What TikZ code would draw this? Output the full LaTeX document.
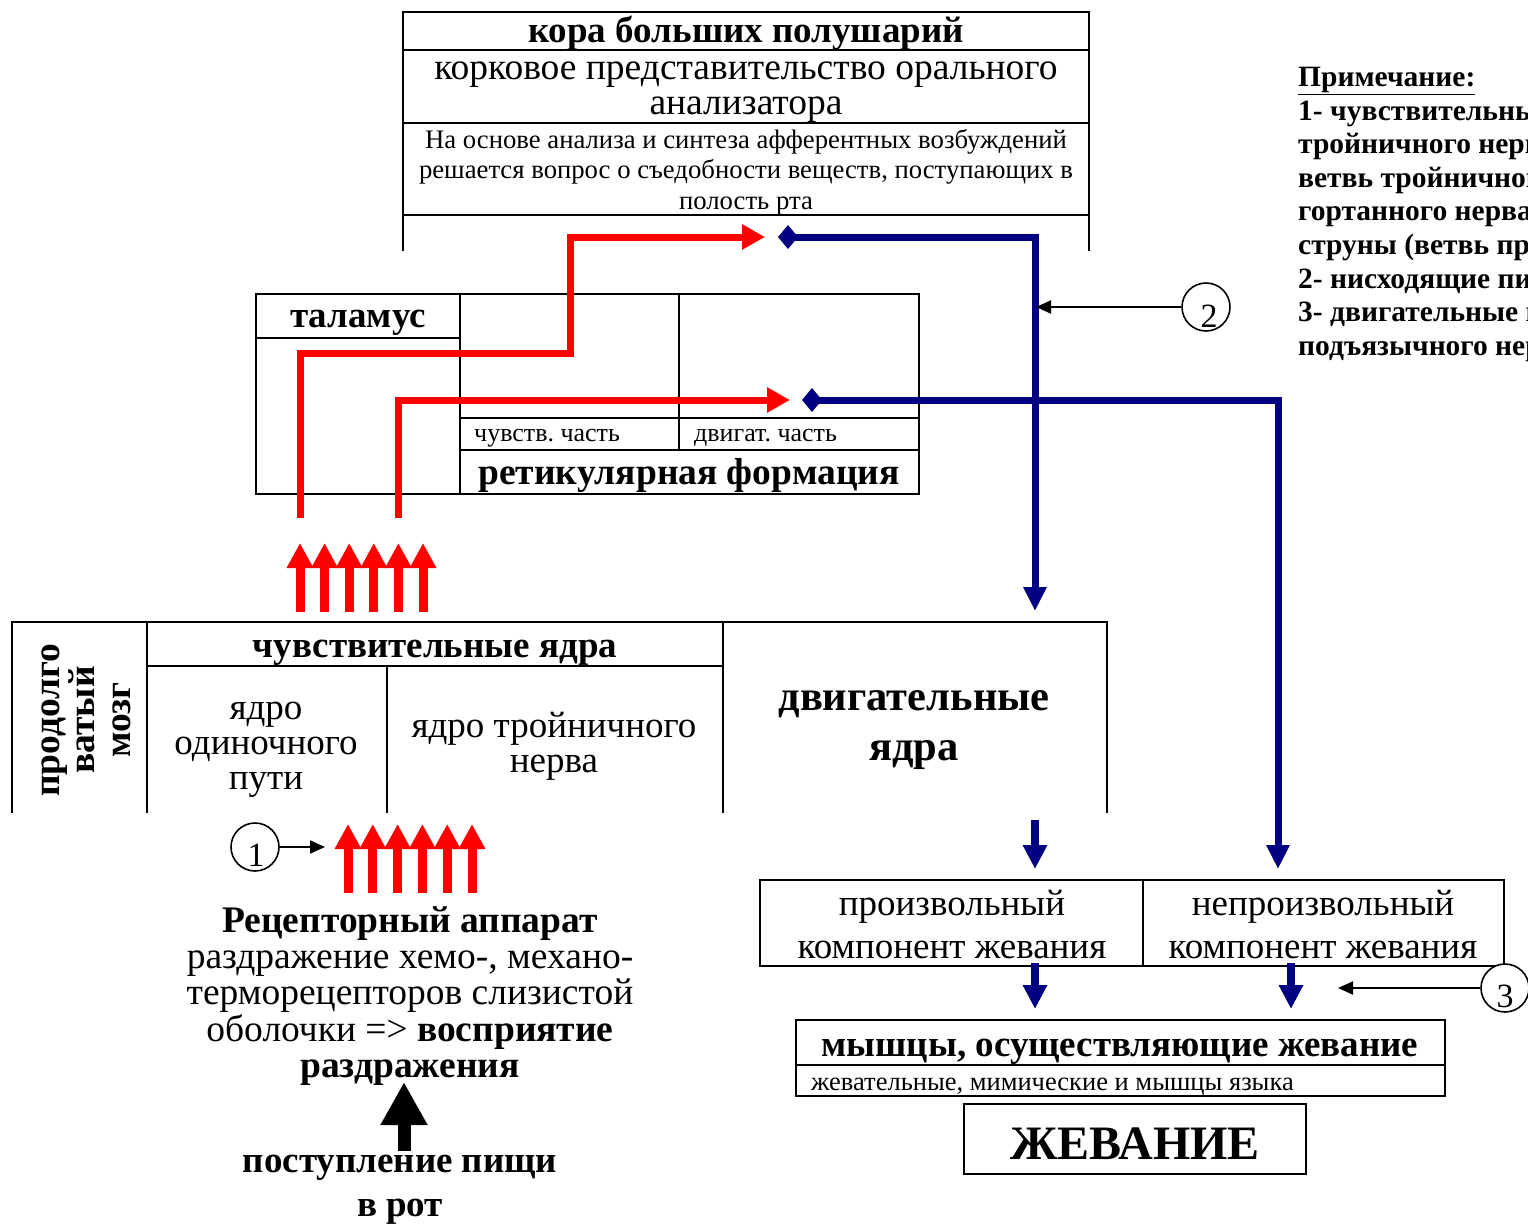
\documentclass[tikz,border=0pt]{standalone}
\usepackage{fontspec}
\setmainfont{Liberation Serif}
\usetikzlibrary{arrows.meta}
\definecolor{nred}{RGB}{255,0,0}
\definecolor{nblue}{RGB}{0,0,128}
\newcommand{\fsz}[2]{\fontsize{#1}{#2}\selectfont}
\frenchspacing
\begin{document}
\begin{tikzpicture}[x=1pt,y=-1pt,
  frame/.style={line width=2pt, line cap=rect},
  lbl/.style={inner sep=0pt, align=center},
  redpath/.style={nred, line width=7pt, -{Triangle[length=23pt,width=24pt]}},
  bluepath/.style={nblue, line width=7pt, {Diamond[length=20pt,width=24pt]}-{Triangle[length=24pt,width=22pt]}},
  bluedown/.style={nblue, line width=8pt, -{Triangle[length=24pt,width=23pt]}},
  redup/.style={nred, line width=9pt, -{Triangle[length=25pt,width=25pt]}},
  thinarrow/.style={line width=2pt, -{Triangle[length=15pt,width=13pt]}},
  numcirc/.style={circle, draw, line width=1.6pt, fill=white, minimum size=48pt, inner sep=0pt},
  digit/.style={inner sep=0pt, font={\fsz{34}{34}}},
]
\useasboundingbox (0,0) rectangle (1528,1223);
\clip (0,0) rectangle (1528,1223);

% ---- cortex block ----
\draw[frame] (403,250) -- (403,12) -- (1089,12) -- (1089,250);
\draw[frame] (403,50) -- (1089,50);
\draw[frame] (403,123) -- (1089,123);
\draw[frame] (403,215) -- (1089,215);
\node[lbl, font={\fsz{37}{36}\bfseries}] (cortex) at (746,33) {кора больших полушарий};
\node[lbl, font={\fsz{37.5}{35}}] (oral) at (746,92) {корковое представительство орального\\анализатора};
\node[lbl, font={\fsz{26.7}{30.5}}] (decide) at (746,172) {На основе анализа и синтеза афферентных возбуждений\\решается вопрос о съедобности веществ, поступающих в\\полость рта};

% ---- thalamus / reticular formation block ----
\draw[frame] (256,294) rectangle (919,494);
\draw[frame] (460,294) -- (460,494);
\draw[frame] (679,294) -- (679,450);
\draw[frame] (256,338) -- (460,338);
\draw[frame] (460,418) -- (919,418);
\draw[frame] (460,450) -- (919,450);
\node[lbl, font={\fsz{37}{36}\bfseries}] (thal) at (358,323) {таламус};
\node[lbl, anchor=west, font={\fsz{26}{28}}] (sens) at (474,438) {чувств. часть};
\node[lbl, anchor=west, font={\fsz{26}{28}}] (mot) at (694,438) {двигат. часть};
\node[lbl, font={\fsz{37.5}{36}\bfseries}] (ret) at (689,476) {ретикулярная формация};

% ---- medulla block ----
\draw[frame] (12,812) -- (12,622) -- (1107,622) -- (1107,812);
\draw[frame] (147,622) -- (147,812);
\draw[frame] (723,622) -- (723,812);
\draw[frame] (387,666) -- (387,812);
\draw[frame] (147,666) -- (723,666);
\node[lbl, rotate=90, font={\fsz{37.5}{35.5}\bfseries}] (medulla) at (86,720) {продолго\\ватый\\мозг};
\node[lbl, font={\fsz{37}{36}\bfseries}] (sensnuc) at (435,653) {чувствительные ядра};
\node[lbl, font={\fsz{37}{35}}] (solit) at (266,750) {ядро\\одиночного\\пути};
\node[lbl, font={\fsz{37}{35}}] (trig) at (554,746) {ядро тройничного\\нерва};
\node[lbl, font={\fsz{42.5}{50}\bfseries}] (motnuc) at (914,730) {двигательные\\ядра};

% ---- chewing components ----
\draw[frame] (760,880) rectangle (1504,966);
\draw[frame] (1143,880) -- (1143,966);
\node[lbl, font={\fsz{37}{43}}] (vol) at (952,925) {произвольный\\компонент жевания};
\node[lbl, font={\fsz{37}{43}}] (invol) at (1323,925) {непроизвольный\\компонент жевания};

% ---- muscles ----
\draw[frame] (796,1020) rectangle (1445,1096);
\draw[frame] (796,1065) -- (1445,1065);
\node[lbl, font={\fsz{37}{36}\bfseries}] (musc) at (1120,1052) {мышцы, осуществляющие жевание};
\node[lbl, anchor=west, font={\fsz{26.5}{28}}] (musc2) at (811,1087) {жевательные, мимические и мышцы языка};

\draw[frame] (964,1104) rectangle (1306,1174);
\node[lbl, font={\fsz{48}{52}\bfseries}] (chew) at (1135,1144) {ЖЕВАНИЕ};

% ---- receptor apparatus ----
\node[lbl, font={\fsz{37.5}{36.2}}] (recept) at (410,996) {\textbf{Рецепторный аппарат}\\раздражение хемо-, механо-\\терморецепторов слизистой\\оболочки => \textbf{восприятие}\\\textbf{раздражения}};
\node[lbl, font={\fsz{37}{44}\bfseries}] (food) at (400,1190) {поступление пищи\\в рот};

% ---- note ----
\node[lbl, anchor=north west, align=left, font={\fsz{29.5}{33.6}\bfseries}] (note) at (1298,67)
 {\underline{Примечание:}\\
  1- чувствительные волокна\\
  тройничного нерва (язычная\\
  ветвь тройничного нерва),\\
  гортанного нерва, барабанной\\
  струны (ветвь промежуточного\\
  2- нисходящие пирамидные\\
  3- двигательные волокна\\
  подъязычного нерва};

% ---- red afferent paths ----
\coordinate (a0) at (300,518);
\coordinate (a1) at (765,237);
\coordinate (b0) at (398,518);
\coordinate (b1) at (790,400);
\draw[redpath] (a0) -- (300,353) -- (570,353) -- (570,237) -- (a1);
\draw[redpath] (b0) -- (398,400) -- (b1);

% ---- blue efferent paths ----
\coordinate (c0) at (778,237);
\coordinate (c1) at (1035,611);
\coordinate (d0) at (802,400);
\coordinate (d1) at (1278,869);
\draw[bluepath] (c0) -- (1035,237) -- (c1);
\draw[bluepath] (d0) -- (1278,400) -- (d1);

\draw[bluedown] (1035,820) -- (1035,869);
\draw[bluedown] (1035,963) -- (1035,1009);
\draw[bluedown] (1291,963) -- (1291,1009);

% ---- red arrow bundles ----
\foreach \x in {300,324.6,349.2,373.8,398.4,423} {
  \draw[redup] (\x,612) -- (\x,543);
}
\foreach \x in {348,372.8,397.6,422.4,447.2,472} {
  \draw[redup] (\x,893) -- (\x,824);
}

% ---- food arrow ----
\draw[line width=13pt, -{Triangle[length=43pt,width=44pt]}] (404,1151) -- (404,1082);

% ---- numbered markers ----
\node[numcirc] (n1) at (255,847) {};
\node[digit] at (256,855) {1};
\coordinate (n1t) at (325,847);
\draw[thinarrow] (n1.east) -- (n1t);

\node[numcirc] (n2) at (1206,307) {};
\node[digit] at (1209,316) {2};
\coordinate (n2t) at (1036,307);
\draw[thinarrow] (n2.west) -- (n2t);

\node[numcirc] (n3) at (1505,988) {};
\node[digit] at (1505,996) {3};
\coordinate (n3t) at (1338,988);
\draw[thinarrow] (n3.west) -- (n3t);
\end{tikzpicture}
\end{document}
